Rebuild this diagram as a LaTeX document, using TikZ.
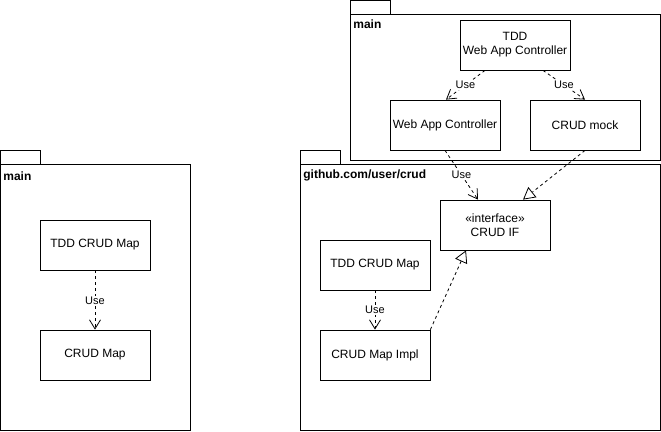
\documentclass[tikz,border=0pt]{standalone}
\usepackage{fontspec}
\setmainfont{Liberation Sans}
\usetikzlibrary{arrows.meta}
\begin{document}
\begin{tikzpicture}[x=1pt,y=-1pt,line width=0.8pt,
  cls/.style={draw,fill=white,minimum width=110pt,minimum height=50pt,inner sep=1pt,align=center,font=\fontsize{12}{14}\selectfont},
  pkglabel/.style={anchor=north west,inner sep=0pt,font=\bfseries\fontsize{12}{14}\selectfont},
  usearrow/.style={dash pattern=on 3pt off 3pt,-{Straight Barb[length=9pt,width=11pt,line width=0.8pt]}},
  realize/.style={dash pattern=on 3pt off 3pt,-{Triangle[open,length=12pt,width=13pt,line width=0.8pt,fill=white]}},
  uselbl/.style={fill=white,inner sep=1pt,font=\fontsize{11}{12}\selectfont}]
\useasboundingbox (0,0) rectangle (661,431);
% left package
\draw (0,150) rectangle (40,164);
\draw (0,164) rectangle (190,430);
\node[pkglabel] (lmain) at (3,171) {main};
% lower right package
\draw (300,150) rectangle (340,164);
\draw (300,164) rectangle (660,430);
\node[pkglabel] (gh) at (303,169) {github.com/user/crud};
% upper right package
\draw (350,0) rectangle (390,14);
\draw (350,14) rectangle (660,160);
\node[pkglabel] (rmain) at (353,19) {main};
% classes
\node[cls] (ltdd) at (95,245) {TDD CRUD Map};
\node[cls] (lmap) at (95,355) {CRUD Map};
\node[cls] (tddweb) at (515,45) {TDD\\Web App Controller};
\node[cls] (wac) at (445,125) {Web App Controller};
\node[cls] (mock) at (585,125) {CRUD mock};
\node[cls] (crudif) at (495,225) {«interface»\\CRUD IF};
\node[cls] (rtdd) at (375,265) {TDD CRUD Map};
\node[cls] (impl) at (375,355) {CRUD Map Impl};
% connectors
\draw[usearrow] (ltdd.south) -- (lmap.north) node[uselbl,pos=0.52] {Use};
\draw[usearrow] (rtdd.south) -- (impl.north) node[uselbl,pos=0.5] {Use};
\draw[usearrow] ([xshift=-30pt]tddweb.south) -- ([xshift=1pt]wac.north) node[uselbl,pos=0.5] {Use};
\draw[usearrow] ([xshift=28pt]tddweb.south) -- (mock.north) node[uselbl,pos=0.5] {Use};
\draw[usearrow] (wac.south) -- ([xshift=-17pt]crudif.north) node[uselbl,pos=0.5] {Use};
\draw[realize] (mock.south) -- ([xshift=28pt]crudif.north);
\draw[realize] (impl.north east) -- ([xshift=-29pt]crudif.south);
\end{tikzpicture}
\end{document}
